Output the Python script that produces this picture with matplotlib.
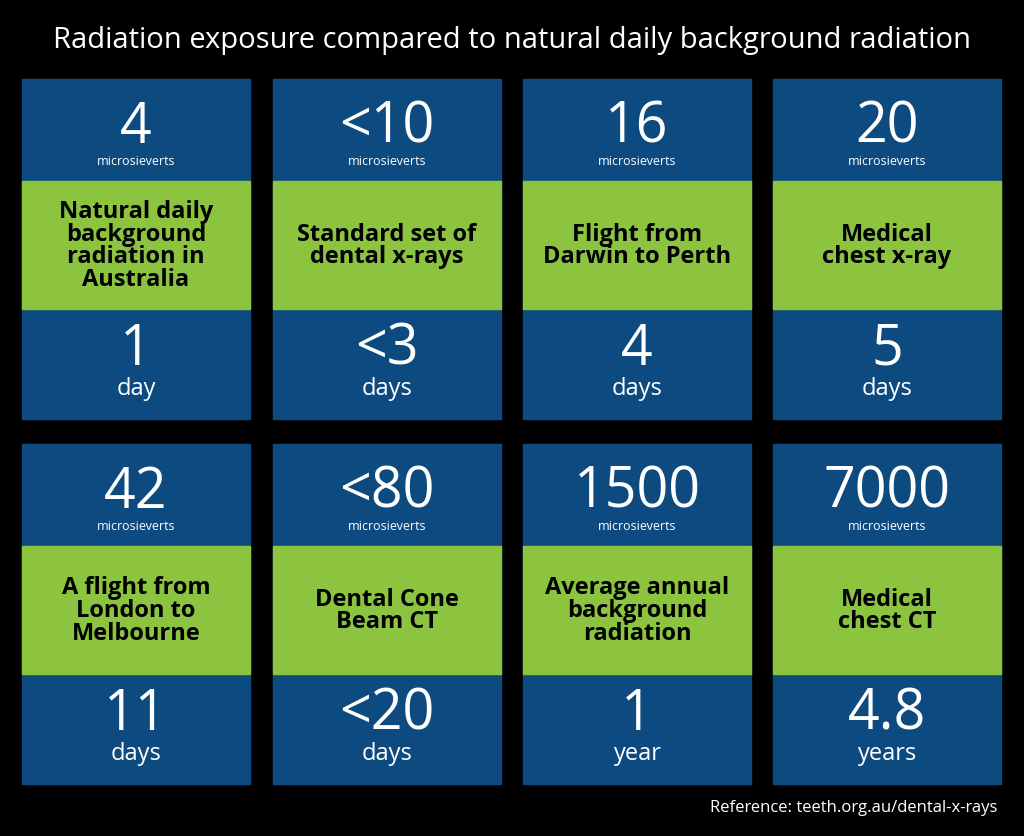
import matplotlib.pyplot as plt
from matplotlib.patches import Rectangle

doses = ["4", "<10", "16", "20", "42", "<80", "1500", "7000"]
labels = ["Natural daily\nbackground\nradiation in\nAustralia",
          "Standard set of\ndental x-rays",
          "Flight from\nDarwin to Perth",
          "Medical\nchest x-ray",
          "A flight from\nLondon to\nMelbourne",
          "Dental Cone\nBeam CT",
          "Average annual\nbackground\nradiation",
          "Medical\nchest CT"]
durations = ["1", "<3", "4", "5", "11", "<20", "1", "4.8"]
units = ["day", "days", "days", "days", "days", "days", "year", "years"]

BLUE = "#0d4a7f"
GREEN = "#8cc43f"
FONT = "Open Sans"

fig = plt.figure(figsize=(10.24, 8.37), dpi=100, facecolor="black")
ax = fig.add_axes([0, 0, 1, 1])
ax.set_xlim(0, 1024)
ax.set_ylim(837, 0)
ax.axis("off")

ax.text(512, 40, "Radiation exposure compared to natural daily background radiation",
        color="white", fontsize=21, ha="center", va="center", family=FONT)

col_x = [22, 273, 523, 773]
row_y = [80, 445]
w = 228
top_h, green_h, bot_h = 102, 128, 110

for i in range(len(doses)):
    x = col_x[i % 4]
    y = row_y[i // 4]
    cx = x + w / 2
    ax.add_patch(Rectangle((x, y), w, top_h + green_h + bot_h, color=BLUE))
    ax.add_patch(Rectangle((x, y + top_h), w, green_h, color=GREEN))
    ax.text(cx, y + 48, doses[i], color="white", fontsize=40, ha="center",
            va="center", family=FONT)
    ax.text(cx, y + 81, "microsieverts", color="white", fontsize=9,
            ha="center", va="center", family=FONT)
    ax.text(cx, y + top_h + green_h / 2, labels[i], color="black", fontsize=17,
            fontweight="bold", ha="center", va="center", family=FONT,
            linespacing=0.92)
    ax.text(cx, y + top_h + green_h + 40, durations[i], color="white",
            fontsize=40, ha="center", va="center", family=FONT)
    ax.text(cx, y + top_h + green_h + 79, units[i], color="white",
            fontsize=17, ha="center", va="center", family=FONT)

ax.text(997, 808, "Reference: teeth.org.au/dental-x-rays", color="white",
        fontsize=12, ha="right", va="center", family=FONT)

fig.savefig("out.png", dpi=100, facecolor="black")
